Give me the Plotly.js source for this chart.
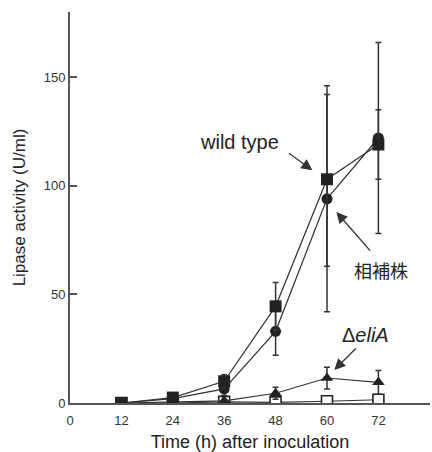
<!DOCTYPE html>
<html>
<head>
<meta charset="utf-8">
<script src="https://cdn.plot.ly/plotly-3.0.1.min.js"></script>
<style>html,body{margin:0;padding:0;background:#fff;}#chart{width:432px;height:452px;}</style>
</head>
<body>
<div id="chart"></div>
<script>
const hours = [12, 24, 36, 48, 60, 72];
const xTickVals = [0, 12, 24, 36, 48, 60, 72];
const yTickVals = [0, 50, 100, 150];

const wildType = [0, 2.5, 10, 44.5, 103, 119];
const wildTypeErrPlus = [0, 0.8, 3, 11, 39, 16];
const wildTypeErrMinus = [0, 0.8, 3, 11, 40, 16];

const complement = [0, 2, 6.5, 33, 94, 122];
const complementErr = [0, 0.8, 3, 11, 52, 44];

const eliA = [0, 0.5, 1, 4.5, 11.5, 9.5];
const eliAErr = [0, 0.3, 0.5, 2.8, 5, 5.5];

const other = [0, 0, 0.5, 0.3, 0.8, 1.5];
const otherErr = [0, 0, 0.3, 0.3, 0.5, 1];

const lineColor = '#333';
const font = 'Liberation Sans, Arial, sans-serif';

function errBar(plus, minus) {
  return {type: 'data', array: plus, arrayminus: minus || plus, visible: true,
          color: '#333', thickness: 1.5, width: 3};
}

const traces = [
  {x: hours, y: other, mode: 'lines+markers', name: 'other',
   line: {color: lineColor, width: 1.2},
   marker: {symbol: 'square', size: 11, color: '#fff', line: {width: 1.6, color: '#222'}},
   error_y: errBar(otherErr)},
  {x: hours, y: eliA, mode: 'lines+markers', name: 'ΔeliA',
   line: {color: lineColor, width: 1.2},
   marker: {symbol: 'triangle-up', size: 11, color: '#222'},
   error_y: errBar(eliAErr)},
  {x: hours, y: complement, mode: 'lines+markers', name: '相補株',
   line: {color: lineColor, width: 1.2},
   marker: {symbol: 'circle', size: 11, color: '#222'},
   error_y: errBar(complementErr)},
  {x: hours, y: wildType, mode: 'lines+markers', name: 'wild type',
   line: {color: lineColor, width: 1.2},
   marker: {symbol: 'square', size: 12, color: '#222'},
   error_y: errBar(wildTypeErrPlus, wildTypeErrMinus)}
];

const arrowBase = {xref: 'x', yref: 'y', text: '', showarrow: true, arrowhead: 2,
                   arrowsize: 1.7, arrowwidth: 1.3, arrowcolor: '#333', standoff: 0, startstandoff: 0};

const layout = {
  width: 432, height: 452,
  margin: {l: 70, r: 2, t: 12, b: 49},
  paper_bgcolor: '#fff', plot_bgcolor: '#fff',
  showlegend: false,
  font: {family: font, color: '#333', size: 13},
  xaxis: {
    range: [0, 84.05], tickvals: xTickVals, ticktext: xTickVals.map(String),
    showline: true, linewidth: 2, linecolor: '#555',
    ticks: 'outside', ticklen: 4, tickcolor: 'rgba(0,0,0,0)',
    showgrid: false, zeroline: false,
    tickfont: {size: 13, color: '#333', family: font},
    title: {text: 'Time (h) after inoculation', font: {size: 18, color: '#222', family: font}, standoff: 9}
  },
  yaxis: {
    range: [0, 180], tickvals: yTickVals, ticktext: yTickVals.map(String),
    showline: true, linewidth: 2, linecolor: '#555',
    ticks: 'inside', ticklen: 7, tickwidth: 2, tickcolor: '#555',
    showgrid: false, zeroline: false,
    tickfont: {size: 13, color: '#333', family: font},
    title: {text: 'Lipase activity (U/ml)', font: {size: 17, color: '#222', family: font}, standoff: 14}
  },
  annotations: [
    {xref: 'x', yref: 'y', x: 39.5, y: 120, text: 'wild type', showarrow: false,
     font: {size: 20, color: '#222', family: font}},
    Object.assign({}, arrowBase, {x: 56.6, y: 107.2, ax: -25, ay: -18}),
    {xref: 'x', yref: 'y', x: 72.5, y: 61.2, text: '相補株', showarrow: false,
     font: {size: 18, color: '#222', family: 'Noto Sans CJK JP, sans-serif'}},
    Object.assign({}, arrowBase, {x: 62.2, y: 87.9, ax: 35, ay: 40}),
    {xref: 'x', yref: 'y', x: 69.0, y: 31.3, text: 'Δ<i>eliA</i>', showarrow: false,
     font: {size: 20, color: '#222', family: font}},
    Object.assign({}, arrowBase, {x: 61.7, y: 15.2, ax: 23, ay: -23})
  ]
};

Plotly.newPlot('chart', traces, layout, {staticPlot: true, displayModeBar: false});
</script>
</body>
</html>
